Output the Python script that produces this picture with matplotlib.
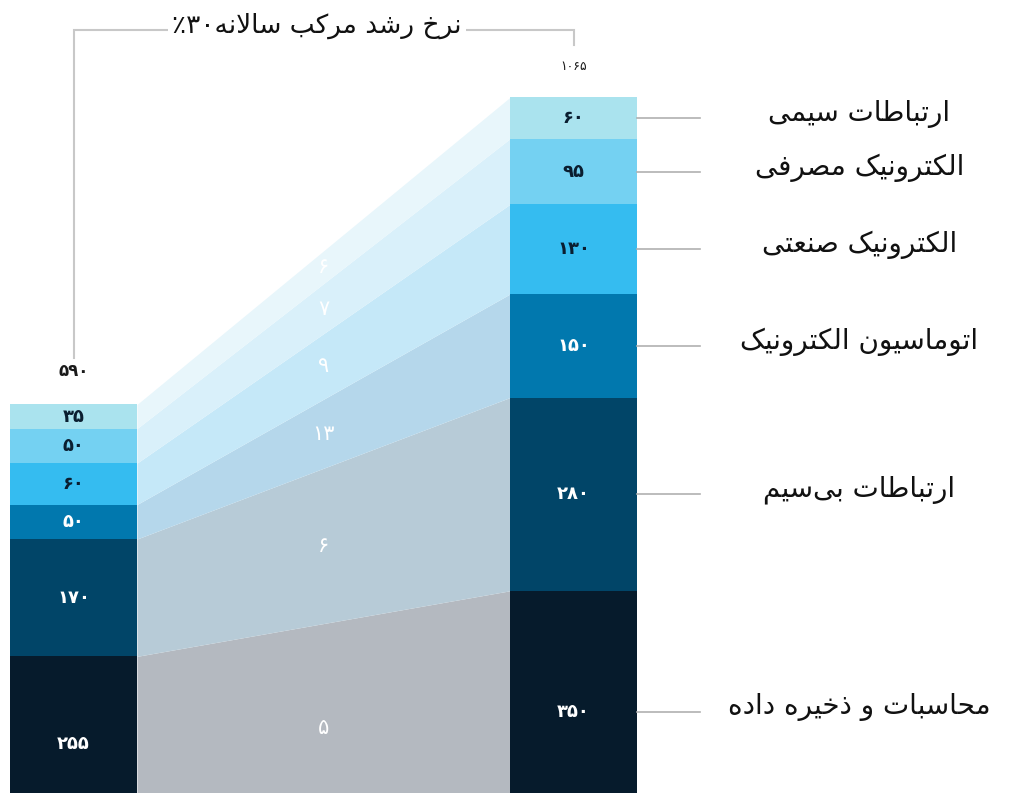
import matplotlib
matplotlib.use("Agg")
import matplotlib.pyplot as plt
import numpy as np

# ---------------- data ----------------
categories = ['محاسبات و ذخیره داده', 'ارتباطات بی\u200cسیم', 'اتوماسیون الکترونیک',
              'الکترونیک صنعتی', 'الکترونیک مصرفی', 'ارتباطات سیمی']
left_values = [255, 170, 50, 60, 50, 35]
right_values = [350, 280, 150, 130, 95, 60]
growth = [5, 6, 13, 9, 7, 6]
totals = [590, 1065]
title = 'نرخ رشد مرکب سالانه۳۰٪'

bar_colors = ['#061b2c', '#014568', '#0178ae', '#35bcf0', '#74d1f2', '#aae3ee']
band_colors = ['#b4b9c0', '#b7cbd7', '#b5d7eb', '#c5e8f8', '#d9f0fa', '#e8f6fb']
text_colors = ['white', 'white', 'white', '#0a1e30', '#0a1e30', '#0a1e30']

# ------------- Persian shaping (presentation forms) -------------
FORMS = {
    'ا': (0xFE8D, 0xFE8E, None, None), 'ب': (0xFE8F, 0xFE90, 0xFE91, 0xFE92),
    'پ': (0xFB56, 0xFB57, 0xFB58, 0xFB59), 'ت': (0xFE95, 0xFE96, 0xFE97, 0xFE98),
    'ث': (0xFE99, 0xFE9A, 0xFE9B, 0xFE9C), 'ج': (0xFE9D, 0xFE9E, 0xFE9F, 0xFEA0),
    'چ': (0xFB7A, 0xFB7B, 0xFB7C, 0xFB7D), 'ح': (0xFEA1, 0xFEA2, 0xFEA3, 0xFEA4),
    'خ': (0xFEA5, 0xFEA6, 0xFEA7, 0xFEA8), 'د': (0xFEA9, 0xFEAA, None, None),
    'ذ': (0xFEAB, 0xFEAC, None, None), 'ر': (0xFEAD, 0xFEAE, None, None),
    'ز': (0xFEAF, 0xFEB0, None, None), 'ژ': (0xFB8A, 0xFB8B, None, None),
    'س': (0xFEB1, 0xFEB2, 0xFEB3, 0xFEB4), 'ش': (0xFEB5, 0xFEB6, 0xFEB7, 0xFEB8),
    'ص': (0xFEB9, 0xFEBA, 0xFEBB, 0xFEBC), 'ض': (0xFEBD, 0xFEBE, 0xFEBF, 0xFEC0),
    'ط': (0xFEC1, 0xFEC2, 0xFEC3, 0xFEC4), 'ظ': (0xFEC5, 0xFEC6, 0xFEC7, 0xFEC8),
    'ع': (0xFEC9, 0xFECA, 0xFECB, 0xFECC), 'غ': (0xFECD, 0xFECE, 0xFECF, 0xFED0),
    'ف': (0xFED1, 0xFED2, 0xFED3, 0xFED4), 'ق': (0xFED5, 0xFED6, 0xFED7, 0xFED8),
    'ک': (0xFB8E, 0xFB8F, 0xFB90, 0xFB91), 'گ': (0xFB92, 0xFB93, 0xFB94, 0xFB95),
    'ل': (0xFEDD, 0xFEDE, 0xFEDF, 0xFEE0), 'م': (0xFEE1, 0xFEE2, 0xFEE3, 0xFEE4),
    'ن': (0xFEE5, 0xFEE6, 0xFEE7, 0xFEE8), 'و': (0xFEED, 0xFEEE, None, None),
    'ه': (0xFEE9, 0xFEEA, 0xFEEB, 0xFEEC), 'ی': (0xFBFC, 0xFBFD, 0xFBFE, 0xFBFF),
}


def _jt(c):
    if c in FORMS:
        return 'D' if FORMS[c][2] is not None else 'R'
    return 'U'


def fa(s):
    chars = list(s)
    n = len(chars)
    out = []
    i = 0
    while i < n:
        c = chars[i]
        if c not in FORMS:
            if c != '\u200c':
                out.append(c)
            i += 1
            continue
        jp = i > 0 and _jt(chars[i - 1]) == 'D'
        if c == 'ل' and i + 1 < n and chars[i + 1] == 'ا':
            out.append('\uFEFC' if jp else '\uFEFB')
            i += 2
            continue
        jn = _jt(c) == 'D' and i + 1 < n and _jt(chars[i + 1]) in ('D', 'R')
        iso, fin, ini, med = FORMS[c]
        if jp and jn:
            g = med
        elif jp:
            g = fin
        elif jn:
            g = ini
        else:
            g = iso
        out.append(chr(g))
        i += 1
    tokens = []
    for ch in out:
        if ch.isdigit() and tokens and tokens[-1][0].isdigit():
            tokens[-1] += ch
        else:
            tokens.append(ch)
    return ''.join(reversed(tokens))


def fa_num(v):
    return str(v).translate(str.maketrans('0123456789', '۰۱۲۳۴۵۶۷۸۹'))


plt.rcParams['font.family'] = ['DejaVu Sans']

# ---------------- figure ----------------
fig = plt.figure(figsize=(10.19, 7.93), dpi=100)
ax = fig.add_axes([0, 0, 1, 1])
ax.set_xlim(-0.147, 1.891)
ax.set_ylim(57, 1206)
ax.axis('off')

w = 0.254
x_pos = [0, 1]
cumL = np.concatenate([[0], np.cumsum(left_values)])
cumR = np.concatenate([[0], np.cumsum(right_values)])

# connector bands
xs = [x_pos[0] + w / 2, x_pos[1] - w / 2]
for i in range(len(categories)):
    ax.fill_between(xs, [cumL[i], cumR[i]], [cumL[i + 1], cumR[i + 1]],
                    color=band_colors[i], linewidth=0, zorder=1)
    ymid = (cumL[i] + cumL[i + 1] + cumR[i] + cumR[i + 1]) / 4
    ax.text(0.5, ymid, fa_num(growth[i]), color='white', fontsize=15,
            ha='center', va='center', zorder=3)

# bars
for xp, vals in zip(x_pos, [left_values, right_values]):
    bottoms = np.concatenate([[0], np.cumsum(vals)[:-1]])
    ax.bar([xp] * len(vals), vals, width=w, bottom=bottoms,
           color=bar_colors, linewidth=0, zorder=2)
    for i, (b, v) in enumerate(zip(bottoms, vals)):
        ax.text(xp, b + v / 2, fa_num(v), color=text_colors[i], fontsize=13,
                fontweight='bold', ha='center', va='center', zorder=3)

# totals
ax.annotate(fa_num(totals[0]), (x_pos[0], cumL[-1]), xytext=(0, 24),
            textcoords='offset pixels', ha='center', va='bottom', fontsize=12,
            fontweight='bold', color='#1a1a1a')
ax.annotate(fa_num(totals[1]), (x_pos[1], cumR[-1]), xytext=(0, 24),
            textcoords='offset pixels', ha='center', va='bottom', fontsize=9,
            color='#1a1a1a')

# right-side category labels with leader lines
for i, cat in enumerate(categories):
    yc = (cumR[i] + cumR[i + 1]) / 2
    ax.plot([x_pos[1] + w / 2, 1.253], [yc, yc], color='#b0b0b0', lw=1.2, zorder=2)
    ax.text(1.572, yc + 6, fa(cat), fontsize=20, ha='center', va='center', color='#111111')

# CAGR bracket
yb = 1162
ax.plot([x_pos[0], x_pos[0], x_pos[1], x_pos[1]], [687, yb, yb, 1141],
        color='#c8c8c8', lw=1.5, zorder=1, solid_joinstyle='miter')
ax.text(0.487, yb + 6, fa(title), fontsize=19, ha='center', va='center', color='#111111',
        bbox=dict(facecolor='white', edgecolor='none', pad=3), zorder=4)

fig.savefig('out.png', dpi=100)
